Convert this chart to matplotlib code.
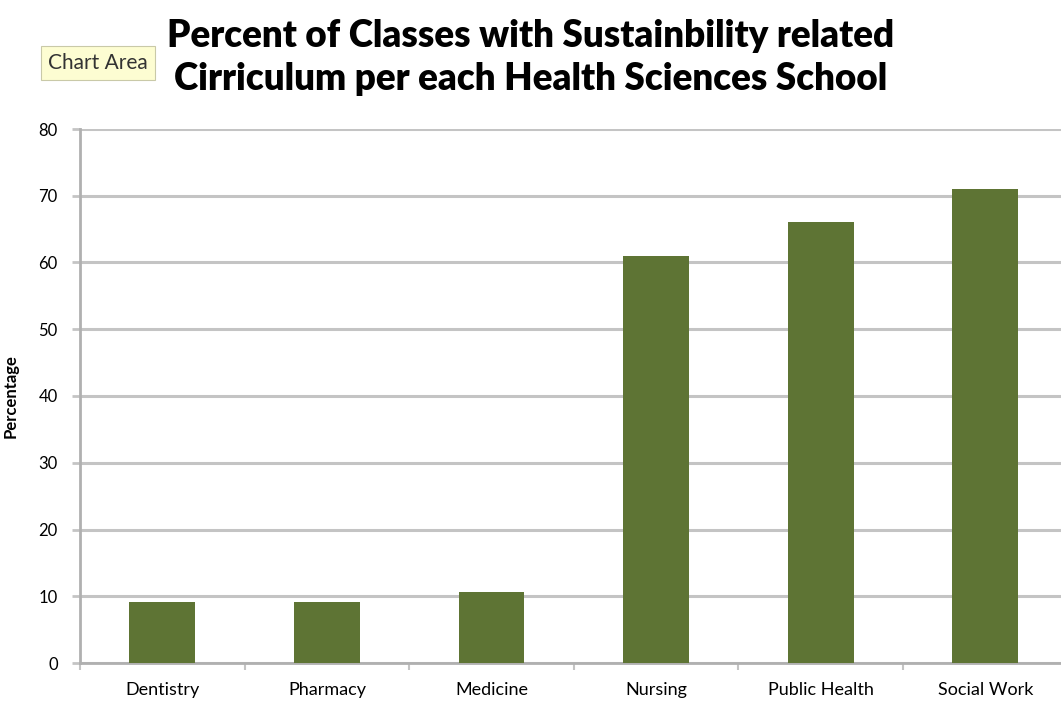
import numpy as np
import matplotlib
matplotlib.use("Agg")
import matplotlib.pyplot as plt
from matplotlib.ticker import FixedLocator

schools = ["Dentistry", "Pharmacy", "Medicine", "Nursing", "Public Health", "Social Work"]
percent = [9.2, 9.2, 10.6, 60.9, 66.0, 71.0]
yticks = [0, 10, 20, 30, 40, 50, 60, 70, 80]

bar_color = "#5e7434"
grid_color = "#c4c4c4"

plt.rcParams["font.family"] = ["Lato", "DejaVu Sans"]

fig = plt.figure(figsize=(10.61, 7.12), dpi=100)
ax = fig.add_axes([80 / 1061, 1 - 663 / 712, 1 - 80 / 1061, (663 - 129) / 712])

x = np.arange(len(schools))
ax.bar(x, percent, width=0.4, color=bar_color, zorder=3)

ax.set_ylim(0, 80)
ax.set_xlim(-0.5, 5.46)
ax.set_yticks(yticks)
ax.yaxis.grid(True, color=grid_color, linewidth=2.2, zorder=0)
ax.set_axisbelow(True)

ax.set_xticks(x)
ax.set_xticklabels(schools, fontsize=13)
ax.xaxis.set_minor_locator(FixedLocator(np.arange(-0.5, 6, 1.0)))
ax.tick_params(axis="x", which="major", length=0, pad=14)
ax.tick_params(axis="x", which="minor", length=5, width=1.5, color=grid_color)
ax.tick_params(axis="y", length=6, width=2, color=grid_color, labelsize=12, pad=10)

for side in ["top", "right"]:
    ax.spines[side].set_visible(False)
for side in ["left", "bottom"]:
    ax.spines[side].set_color("#b0b0b0")
    ax.spines[side].set_linewidth(2)

ax.set_ylabel("Percentage", fontsize=12, fontweight="bold", labelpad=14)

fig.text(0.5, 0.973, "Percent of Classes with Sustainbility related\nCirriculum per each Health Sciences School",
         ha="center", va="top", fontsize=26.5, fontweight="heavy", linespacing=1.3)

fig.text(48 / 1061, 1 - 63 / 712, "Chart Area", ha="left", va="center", fontsize=15,
         color="#333333",
         bbox=dict(boxstyle="square,pad=0.35", facecolor="#fdfdd2", edgecolor="#c9c9a8", linewidth=0.8))

fig.savefig("out.png", dpi=100)
